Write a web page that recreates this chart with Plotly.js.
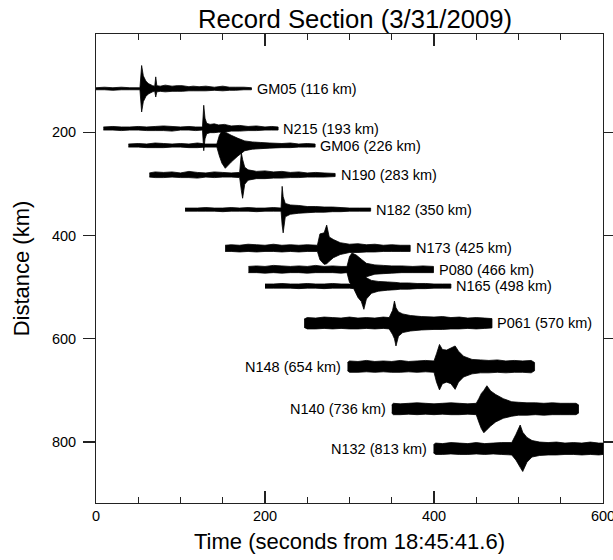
<!DOCTYPE html>
<html>
<head>
<meta charset="utf-8">
<script src="https://cdn.plot.ly/plotly-3.0.1.min.js"></script>
<style>
  html, body { margin: 0; padding: 0; background: #ffffff; }
  #chart { width: 613px; height: 560px; }
</style>
</head>
<body>
<div id="chart"></div>
<script>
// Station names and epicentral distances (km)
const stations  = ["GM05", "N215", "GM06", "N190", "N182", "N173", "P080", "N165", "P061", "N148", "N140", "N132"];
const distances = [116, 193, 226, 283, 350, 425, 466, 498, 570, 654, 736, 813];

// Waveform envelopes: time (s), half-amplitude above and below the baseline (km)
const gm05_t  = [0, 10, 20, 30, 40, 52, 54, 56, 59, 62, 67, 69.5, 70.7, 72, 76, 82, 90, 96, 102, 110, 115, 122, 130, 140, 150, 158, 165, 175, 184];
const gm05_up = [2, 3, 2, 3, 2, 2, 45, 25, 15, 10, 6, 5, 23, 6, 5, 7, 5, 6, 6, 4, 5, 4, 5, 3, 5, 3, 3, 3, 2];
const gm05_dn = [2, 2, 3, 2, 2, 2, 45, 25, 15, 10, 6, 5, 16, 6, 5, 6, 5, 5, 5, 4, 4, 4, 4, 3, 4, 3, 3, 2, 2];

const n215_t  = [8.7, 20, 30, 40, 50, 60, 70, 80, 90, 100, 110, 118, 126, 127.5, 129, 131, 135, 140, 145, 152, 160, 170, 180, 190, 200, 208, 215.5];
const n215_up = [3, 4, 3, 3, 4, 3, 4, 5, 4, 3, 4, 3, 3, 45, 20, 10, 8, 9, 7, 8, 5, 6, 4, 5, 3, 4, 3];
const n215_dn = [3, 3, 4, 3, 3, 4, 4, 4, 5, 3, 3, 4, 3, 43, 20, 10, 8, 8, 7, 7, 5, 5, 4, 4, 3, 3, 3];

const gm06_t  = [38.3, 50, 60, 70, 80, 90, 100, 110, 120, 130, 143, 146, 149, 153, 160, 168, 176, 185, 195, 205, 220, 230, 240, 250, 259.3];
const gm06_up = [3, 4, 3, 5, 4, 3, 4, 3, 5, 3, 3, 20, 28, 26, 20, 14, 9, 7, 6, 5, 4, 5, 3, 4, 3];
const gm06_dn = [3, 3, 4, 4, 4, 3, 3, 4, 4, 3, 3, 20, 34, 44, 32, 20, 10, 7, 6, 5, 4, 4, 3, 3, 3];

const n190_t  = [63.1, 70, 80, 90, 100, 110, 120, 130, 140, 150, 160, 170, 172, 173.5, 176, 180, 190, 200, 210, 220, 230, 240, 250, 260, 270, 283];
const n190_up = [4, 6, 5, 6, 4, 7, 5, 4, 6, 5, 4, 5, 43, 30, 15, 10, 7, 8, 6, 7, 5, 6, 4, 5, 4, 3];
const n190_dn = [4, 5, 5, 4, 5, 5, 6, 4, 5, 4, 4, 5, 30, 45, 18, 10, 7, 7, 6, 6, 5, 5, 4, 4, 4, 3];

const n182_t  = [105.4, 120, 130, 140, 150, 160, 170, 180, 190, 200, 210, 219, 220.3, 221.5, 224, 230, 240, 250, 260, 270, 280, 290, 300, 312, 325];
const n182_up = [3, 3, 4, 3, 3, 4, 3, 4, 3, 3, 4, 3, 45, 25, 12, 9, 8, 6, 6, 5, 5, 4, 3, 3, 3];
const n182_dn = [3, 3, 3, 3, 4, 3, 3, 3, 4, 3, 3, 3, 30, 45, 14, 9, 7, 6, 5, 5, 4, 4, 3, 3, 3];

const n173_t  = [152.8, 160, 170, 180, 190, 200, 210, 220, 230, 240, 250, 262, 265, 270, 273, 276, 281, 289, 300, 310, 320, 330, 340, 350, 360, 371.8];
const n173_up = [6, 7, 6, 8, 7, 6, 8, 6, 7, 6, 7, 6, 28, 30, 45, 22, 17, 11, 8, 9, 7, 8, 6, 7, 6, 6];
const n173_dn = [6, 6, 7, 6, 7, 6, 6, 7, 6, 7, 6, 6, 22, 31, 30, 25, 18, 12, 8, 8, 7, 7, 6, 6, 6, 6];

const p080_t  = [180.4, 190, 200, 210, 220, 230, 240, 250, 260, 270, 280, 290, 297, 300, 303, 308, 314, 320, 330, 340, 350, 362, 375, 387, 399.4];
const p080_up = [6, 7, 6, 8, 7, 6, 7, 6, 8, 6, 7, 6, 6, 25, 32, 28, 20, 12, 9, 8, 7, 7, 6, 7, 6];
const p080_dn = [6, 6, 7, 6, 7, 6, 6, 7, 6, 6, 6, 7, 6, 25, 30, 30, 22, 14, 9, 8, 7, 6, 6, 6, 6];

const n165_t  = [200, 210, 220, 230, 240, 250, 260, 270, 280, 290, 300, 305, 310, 314, 317, 320, 326, 334, 345, 355, 360, 370, 380, 390, 400, 410, 420];
const n165_up = [4, 4, 5, 4, 4, 5, 4, 4, 5, 4, 4, 5, 30, 28, 24, 16, 11, 9, 8, 7, 6, 6, 5, 5, 4, 4, 4];
const n165_dn = [4, 4, 4, 4, 5, 4, 4, 5, 4, 4, 4, 5, 22, 30, 45, 25, 14, 10, 8, 7, 6, 6, 5, 5, 4, 4, 4];

const p061_t  = [246.3, 250, 260, 270, 280, 290, 300, 310, 320, 330, 340, 347, 351, 353.2, 355, 358, 363, 372, 385, 400, 410, 420, 430, 440, 450, 460, 468.6];
const p061_up = [8, 11, 10, 12, 11, 10, 12, 10, 11, 10, 12, 11, 25, 43, 30, 22, 18, 15, 13, 12, 13, 11, 12, 10, 11, 10, 9];
const p061_dn = [8, 11, 11, 10, 11, 10, 11, 11, 10, 11, 10, 11, 22, 30, 44, 25, 18, 15, 13, 12, 12, 11, 11, 10, 11, 10, 9];

const n148_t  = [297.6, 300, 310, 320, 330, 340, 350, 360, 370, 380, 390, 400, 403, 406.5, 410, 415, 420, 425, 429, 435, 445, 455, 465, 475, 485, 495, 505, 515, 519];
const n148_up = [8, 11, 10, 12, 10, 11, 10, 12, 10, 11, 12, 11, 25, 43, 33, 32, 36, 40, 30, 20, 14, 13, 12, 13, 11, 12, 11, 12, 8];
const n148_dn = [8, 11, 11, 10, 11, 10, 11, 11, 10, 11, 10, 11, 30, 45, 33, 30, 33, 44, 30, 20, 14, 12, 12, 11, 12, 11, 11, 12, 8];

const n140_t  = [350, 352, 360, 370, 380, 390, 400, 410, 420, 430, 440, 450, 453, 456, 459, 462.6, 467, 473, 482, 492, 500, 510, 520, 530, 540, 550, 560, 568, 571];
const n140_up = [8, 11, 10, 11, 12, 11, 10, 11, 12, 11, 10, 11, 20, 30, 36, 45, 35, 28, 20, 14, 13, 12, 12, 11, 12, 11, 11, 11, 8];
const n140_dn = [8, 11, 11, 10, 11, 10, 11, 10, 11, 11, 10, 11, 25, 38, 46, 40, 33, 25, 18, 14, 12, 12, 11, 12, 11, 11, 11, 11, 8];

const n132_t  = [399.4, 402, 410, 420, 430, 440, 450, 460, 470, 480, 492, 497, 502, 505, 510, 516, 525, 535, 545, 555, 565, 575, 585, 595, 600];
const n132_up = [8, 11, 10, 12, 11, 10, 12, 10, 11, 12, 12, 28, 46, 32, 22, 16, 13, 12, 13, 11, 12, 11, 13, 11, 11];
const n132_dn = [8, 11, 11, 10, 11, 11, 10, 11, 10, 11, 12, 22, 36, 44, 26, 16, 13, 12, 12, 11, 11, 12, 11, 12, 11];

const times = [gm05_t, n215_t, gm06_t, n190_t, n182_t, n173_t, p080_t, n165_t, p061_t, n148_t, n140_t, n132_t];
const ups   = [gm05_up, n215_up, gm06_up, n190_up, n182_up, n173_up, p080_up, n165_up, p061_up, n148_up, n140_up, n132_up];
const dns   = [gm05_dn, n215_dn, gm06_dn, n190_dn, n182_dn, n173_dn, p080_dn, n165_dn, p061_dn, n148_dn, n140_dn, n132_dn];

const FONT = "Liberation Sans, Arial, Helvetica, sans-serif";
const AXC = "#222222";

const traces = [];
const annotations = [];
stations.forEach((name, i) => {
  const t = times[i], d = distances[i];
  const xs = t.concat(t.slice().reverse());
  const top = t.map((_, k) => d - ups[i][k]);
  const bot = t.map((_, k) => d + dns[i][k]).reverse();
  traces.push({
    type: "scatter", mode: "lines", x: xs, y: top.concat(bot),
    fill: "toself", fillcolor: "#000000",
    line: { color: "#000000", width: 0.8, simplify: false },
    hoverinfo: "skip", showlegend: false
  });
  const leftSide = d > 600;
  annotations.push({
    x: leftSide ? t[0] - 5 : t[t.length - 1] + 4,
    y: d, xref: "x", yref: "y",
    text: name + " (" + d + " km)",
    showarrow: false,
    xanchor: leftSide ? "right" : "left", yanchor: "middle",
    font: { family: FONT, size: 14.5, color: "#000000" }
  });
});

const layout = {
  width: 613, height: 560,
  margin: { l: 96, r: 10, t: 34, b: 57, pad: 0 },
  paper_bgcolor: "#ffffff", plot_bgcolor: "#ffffff",
  font: { family: FONT, size: 14.5, color: "#000000" },
  title: {
    text: "Record Section (3/31/2009)",
    font: { family: FONT, size: 25.7, color: "#000000" },
    x: 0.511, xref: "paper", xanchor: "center",
    y: 0.966, yref: "container", yanchor: "middle"
  },
  xaxis: {
    range: [0, 600], showgrid: false, zeroline: false,
    showline: true, linecolor: AXC, linewidth: 1, mirror: "ticks",
    ticks: "inside", ticklen: 12, tickcolor: AXC, tickwidth: 1.2,
    tick0: 0, dtick: 200, ticklabeloverflow: "allow",
    minor: { dtick: 50, ticks: "inside", ticklen: 6, tickcolor: AXC, tickwidth: 1.2, showgrid: false },
    tickfont: { family: FONT, size: 14.5, color: "#000000" },
    title: { text: "Time (seconds from 18:45:41.6)", font: { family: FONT, size: 22, color: "#000000" }, standoff: 10 }
  },
  yaxis: {
    range: [918, 10], showgrid: false, zeroline: false,
    showline: true, linecolor: AXC, linewidth: 1, mirror: "ticks",
    ticks: "outside", ticklen: 12, tickcolor: AXC, tickwidth: 1.2,
    tick0: 0, dtick: 200, ticklabelstandoff: 4,
    tickfont: { family: FONT, size: 14.5, color: "#000000" },
    title: { text: "Distance (km)", font: { family: FONT, size: 22, color: "#000000" }, standoff: 16 }
  },
  annotations: annotations,
  showlegend: false
};

Plotly.newPlot("chart", traces, layout, { staticPlot: true, displayModeBar: false });
</script>
</body>
</html>
